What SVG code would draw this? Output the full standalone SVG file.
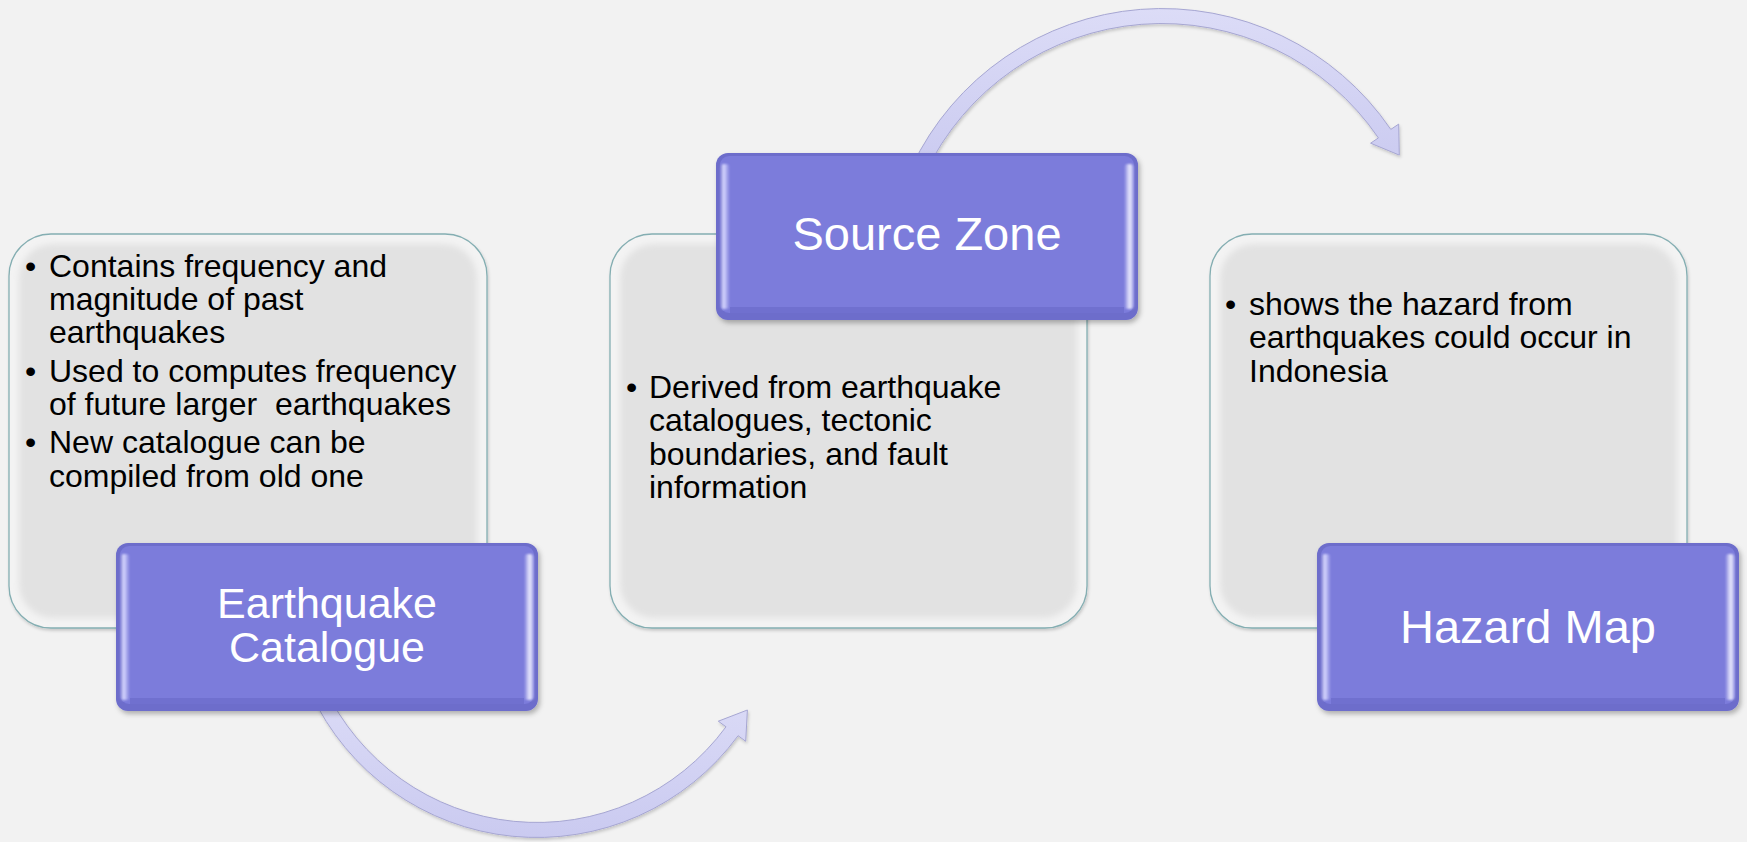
<svg xmlns="http://www.w3.org/2000/svg" width="1747" height="842" viewBox="0 0 1747 842">
<defs>
<filter id="sh" x="-10%" y="-10%" width="125%" height="130%">
<feDropShadow dx="2" dy="3" stdDeviation="2.5" flood-color="#000" flood-opacity="0.28"/>
</filter>
<filter id="sh2" x="-10%" y="-10%" width="125%" height="130%">
<feDropShadow dx="1" dy="2" stdDeviation="1.5" flood-color="#000" flood-opacity="0.18"/>
</filter>
<filter id="soft" x="-5%" y="-5%" width="110%" height="110%">
<feGaussianBlur stdDeviation="3"/>
</filter>
<filter id="hb" x="-50%" y="-5%" width="200%" height="110%">
<feGaussianBlur stdDeviation="1"/>
</filter>
<linearGradient id="lhl" x1="0" y1="0" x2="1" y2="0">
<stop offset="0" stop-color="#6a6ac8"/>
<stop offset="0.35" stop-color="#d8d8ff"/>
<stop offset="1" stop-color="#7b7bdb"/>
</linearGradient>
<linearGradient id="rhl" x1="0" y1="0" x2="1" y2="0">
<stop offset="0" stop-color="#7b7bdb"/>
<stop offset="0.6" stop-color="#eeeeff"/>
<stop offset="1" stop-color="#8a8ae0"/>
</linearGradient>
<linearGradient id="arr" x1="0" y1="0" x2="0" y2="1">
<stop offset="0" stop-color="#dcdcf7"/>
<stop offset="1" stop-color="#cacaf0"/>
</linearGradient>
</defs>
<style>
.bg{fill:#f2f2f2}
.gout{fill:#f3f3f3;stroke:#84aeb2;stroke-width:1.3}
.gin{fill:#e2e2e2}
.pout{fill:#6d6dcb}
.pin{fill:#7b7bdb}
.pbot{fill:#7070cf}
.t{font-family:"Liberation Sans",Arial,sans-serif;font-size:32px;fill:#000;white-space:pre}
.h{font-family:"Liberation Sans",Arial,sans-serif;fill:#fff;text-anchor:middle}
.arrow{fill:url(#arr);stroke:#a6a6d2;stroke-width:1}
</style>
<rect class="bg" x="0" y="0" width="1747" height="842"/>

<g id="connectors">
<path class="arrow" filter="url(#sh2)" d="M310.7,693 A249.5,249.5 0 0 0 738.1,735.7 L745.7,741.3 L747.4,710 L718.3,721.2 L726,726.8 A234.5,234.5 0 0 1 324.3,686.7 Z"/>
<path class="arrow" filter="url(#sh2)" d="M911.8,166.7 A277,277 0 0 1 1390.8,129.4 L1398.7,124.1 L1399.3,155.1 L1370.6,143.2 L1378.4,137.9 A262,262 0 0 0 925.3,173.1 Z"/>
</g>

<g id="node-earthquake-catalogue">
<rect class="gout" x="9" y="234" width="478" height="394" rx="42" filter="url(#sh2)"/>
<rect class="gin" x="19" y="244" width="458" height="374" rx="34" filter="url(#soft)"/>
<text class="t" x="25" y="277">•</text>
<text class="t" x="49" y="277">Contains frequency and</text>
<text class="t" x="49" y="310">magnitude of past</text>
<text class="t" x="49" y="343">earthquakes</text>
<text class="t" x="25" y="382">•</text>
<text class="t" x="49" y="382">Used to computes frequency</text>
<text class="t" x="49" y="415" xml:space="preserve">of future larger  earthquakes</text>
<text class="t" x="25" y="453">•</text>
<text class="t" x="49" y="453">New catalogue can be</text>
<text class="t" x="49" y="487">compiled from old one</text>
<g filter="url(#sh)">
<rect class="pout" x="116" y="543" width="422" height="168" rx="12"/>
<rect class="pin" x="120" y="546" width="414" height="158" rx="9"/>
<rect x="120" y="554" width="10" height="146" rx="4" fill="url(#lhl)" filter="url(#hb)"/>
<rect x="524" y="554" width="10" height="146" rx="4" fill="url(#rhl)" filter="url(#hb)"/>
<rect class="pbot" x="130" y="698" width="394" height="6"/>
</g>
<text class="h" x="327" y="618" font-size="43">Earthquake</text>
<text class="h" x="327" y="662" font-size="43">Catalogue</text>
</g>

<g id="node-source-zone">
<rect class="gout" x="610" y="234" width="477" height="394" rx="42" filter="url(#sh2)"/>
<rect class="gin" x="620" y="244" width="457" height="374" rx="34" filter="url(#soft)"/>
<text class="t" x="626" y="398">•</text>
<text class="t" x="649" y="398">Derived from earthquake</text>
<text class="t" x="649" y="431">catalogues, tectonic</text>
<text class="t" x="649" y="465">boundaries, and fault</text>
<text class="t" x="649" y="498">information</text>
<g filter="url(#sh)">
<rect class="pout" x="716" y="153" width="422" height="167" rx="12"/>
<rect class="pin" x="720" y="156" width="414" height="157" rx="9"/>
<rect x="720" y="164" width="10" height="145" rx="4" fill="url(#lhl)" filter="url(#hb)"/>
<rect x="1124" y="164" width="10" height="145" rx="4" fill="url(#rhl)" filter="url(#hb)"/>
<rect class="pbot" x="730" y="307" width="394" height="6"/>
</g>
<text class="h" x="927" y="250" font-size="47">Source Zone</text>
</g>

<g id="node-hazard-map">
<rect class="gout" x="1210" y="234" width="477" height="394" rx="42" filter="url(#sh2)"/>
<rect class="gin" x="1220" y="244" width="457" height="374" rx="34" filter="url(#soft)"/>
<text class="t" x="1225" y="315">•</text>
<text class="t" x="1249" y="315">shows the hazard from</text>
<text class="t" x="1249" y="348">earthquakes could occur in</text>
<text class="t" x="1249" y="382">Indonesia</text>
<g filter="url(#sh)">
<rect class="pout" x="1317" y="543" width="422" height="168" rx="12"/>
<rect class="pin" x="1321" y="546" width="414" height="158" rx="9"/>
<rect x="1321" y="554" width="10" height="146" rx="4" fill="url(#lhl)" filter="url(#hb)"/>
<rect x="1725" y="554" width="10" height="146" rx="4" fill="url(#rhl)" filter="url(#hb)"/>
<rect class="pbot" x="1331" y="698" width="394" height="6"/>
</g>
<text class="h" x="1528" y="643" font-size="47">Hazard Map</text>
</g>
</svg>
